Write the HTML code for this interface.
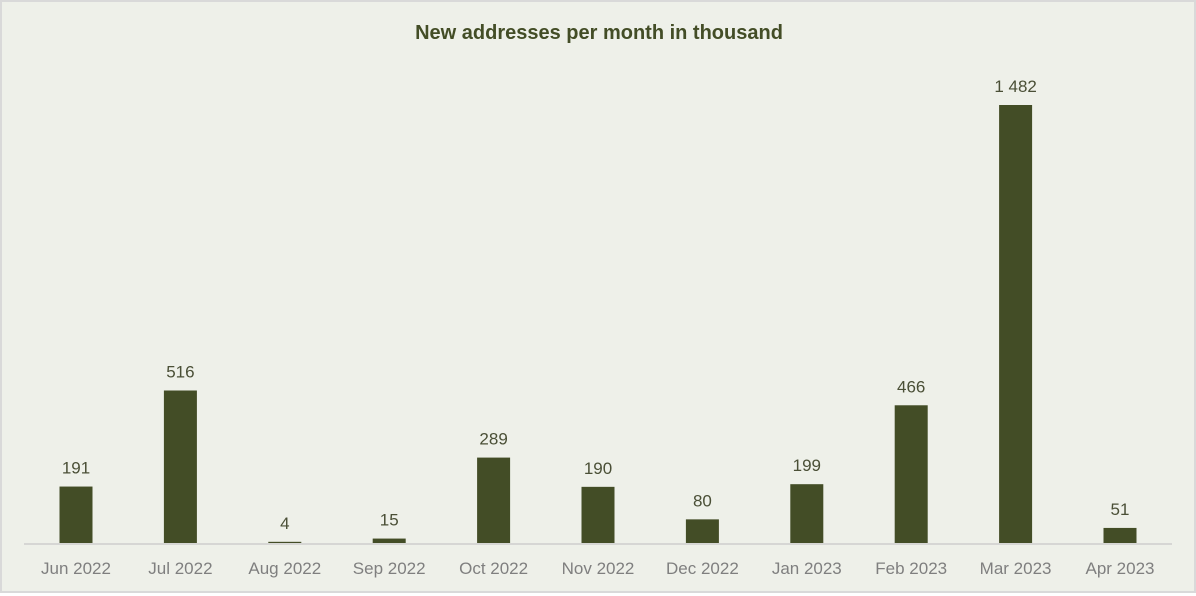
<!DOCTYPE html>
<html><head><meta charset="utf-8"><style>
body{margin:0;background:#fff}
#wrap{position:relative;width:1192px;height:589px;border:2px solid #d9d9d9;background:#eef0e9;font-family:"Liberation Sans",sans-serif}
</style></head><body>
<div id="wrap">
<svg id="chart" width="1192" height="589">
<text x="597" y="37" text-anchor="middle" font-size="20" font-weight="bold" fill="#434d26">New addresses per month in thousand</text>
<line x1="22" x2="1170" y1="542" y2="542" stroke="#d6d6d4" stroke-width="2"/>
<g id="bars"></g>
</svg>
</div>
<script>
const categories=["Jun 2022","Jul 2022","Aug 2022","Sep 2022","Oct 2022","Nov 2022","Dec 2022","Jan 2023","Feb 2023","Mar 2023","Apr 2023"];
const values=[191,516,4,15,289,190,80,199,466,1482,51];
const valueLabels=["191","516","4","15","289","190","80","199","466","1 482","51"];
const base=541, scale=438/1482, x0=74, step=104.4, bw=33;
const yPos=v=>base-v*scale;
const xPos=i=>x0+i*step;
const g=document.getElementById('bars');
const ns="http://www.w3.org/2000/svg";
categories.forEach((c,i)=>{
  const r=document.createElementNS(ns,'rect');
  
  
  r.setAttribute('x',xPos(i)-bw/2);r.setAttribute('y',yPos(values[i]));
  r.setAttribute('width',bw);r.setAttribute('height',values[i]*scale);
  r.setAttribute('fill','#434d26');g.appendChild(r);
  const t=document.createElementNS(ns,'text');
  
  
  t.setAttribute('x',xPos(i));t.setAttribute('y',yPos(values[i])-13);
  t.setAttribute('text-anchor','middle');t.setAttribute('font-size','17');t.setAttribute('fill','#4a4f36');
  t.textContent=valueLabels[i];g.appendChild(t);
  const l=document.createElementNS(ns,'text');
  
  
  l.setAttribute('x',xPos(i));l.setAttribute('y',572);
  l.setAttribute('text-anchor','middle');l.setAttribute('font-size','17');l.setAttribute('fill','#7f7f7f');
  l.textContent=c;g.appendChild(l);
});
</script>
</body></html>
